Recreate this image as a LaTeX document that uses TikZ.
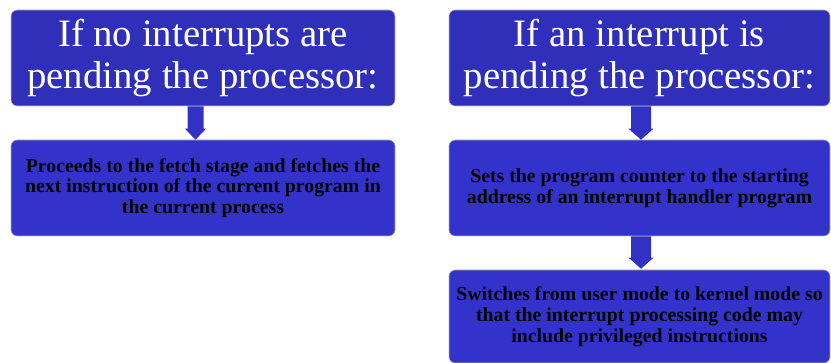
\documentclass[tikz,border=0pt]{standalone}
\usepackage{fontspec}
\setmainfont{Liberation Serif}
\usetikzlibrary{calc}
\definecolor{headfill}{RGB}{47,47,185}
\definecolor{bodyfill}{RGB}{51,51,204}
\definecolor{arrowfill}{RGB}{49,49,195}
\tikzset{
  headbox/.style={draw=gray!50, line width=0.6pt, fill=headfill, rounded corners=6pt, minimum height=96pt, align=center, text=white, inner sep=0pt, font=\fontsize{38.8}{42}\selectfont},
  bodybox/.style={draw=gray!60, line width=0.6pt, fill=bodyfill, rounded corners=6pt, align=center, text=black, inner sep=0pt, font=\fontsize{19.8}{20.8}\selectfont\bfseries},
}
\begin{document}
\begin{tikzpicture}[x=1pt,y=-1pt]
\useasboundingbox (0,0) rectangle (831,363);
\node[headbox, minimum width=384pt] (h1) at (203,58) {If no interrupts are\\pending the processor:};
\node[headbox, minimum width=381pt] (h2) at (639.5,58) {If an interrupt is\\pending the processor:};
\node[bodybox, minimum width=384pt, minimum height=96pt] (b1) at (203,188) {Proceeds to the fetch stage and fetches the\\next instruction of the current program in\\the current process};
\node[bodybox, minimum width=381pt, minimum height=96pt] (b2) at (639.5,188) {Sets the program counter to the starting\\address of an interrupt handler program};
\node[bodybox, minimum width=381pt, minimum height=93pt] (b3) at (639.5,316.5) {Switches from user mode to kernel mode so\\that the interrupt processing code may\\include privileged instructions};
% arrows
\fill[arrowfill] ($(h1.south)+(-15.5pt,0)$) -- ($(b1.north)+(-15.5pt,11pt)$) -- ($(b1.north)+(-18pt,11pt)$) -- ($(b1.north)+(-7.5pt,0)$) -- ($(b1.north)+(3pt,11pt)$) -- ($(b1.north)+(0.5pt,11pt)$) -- ($(h1.south)+(0.5pt,0)$) -- cycle;
\fill[arrowfill] ($(h2.south)+(-8.5pt,0)$) -- ($(b2.north)+(-8.5pt,11pt)$) -- ($(b2.north)+(-11pt,11pt)$) -- ($(b2.north)+(1.5pt,0)$) -- ($(b2.north)+(14pt,11pt)$) -- ($(b2.north)+(11.5pt,11pt)$) -- ($(h2.south)+(11.5pt,0)$) -- cycle;
\fill[arrowfill] ($(b2.south)+(-8.5pt,0)$) -- ($(b3.north)+(-8.5pt,12pt)$) -- ($(b3.north)+(-11pt,12pt)$) -- ($(b3.north)+(1.5pt,1pt)$) -- ($(b3.north)+(14pt,12pt)$) -- ($(b3.north)+(11.5pt,12pt)$) -- ($(b2.south)+(11.5pt,0)$) -- cycle;
\end{tikzpicture}
\end{document}
